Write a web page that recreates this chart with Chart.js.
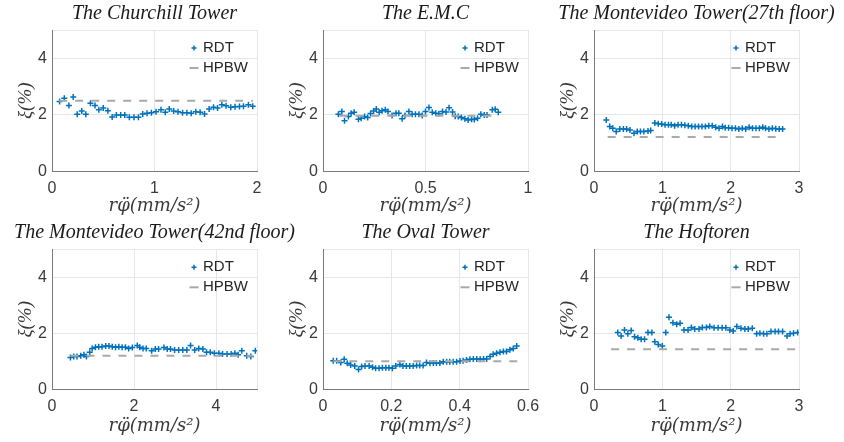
<!DOCTYPE html>
<html><head><meta charset="utf-8">
<script src="https://cdn.jsdelivr.net/npm/chart.js@4.4.0/dist/chart.umd.min.js"></script>
<style>
html,body{margin:0;padding:0;background:#fff;overflow:hidden;width:844px;height:442px;}
canvas{position:absolute;}
</style></head><body>
<canvas id="c0" width="309" height="221" style="left:0px;top:0px"></canvas>
<canvas id="c1" width="309" height="221" style="left:271px;top:0px"></canvas>
<canvas id="c2" width="309" height="221" style="left:542px;top:0px"></canvas>
<canvas id="c3" width="309" height="221" style="left:0px;top:221px"></canvas>
<canvas id="c4" width="309" height="221" style="left:271px;top:221px"></canvas>
<canvas id="c5" width="309" height="221" style="left:542px;top:221px"></canvas>
<script>
// ---------- data ----------
const titles = ['The Churchill Tower', 'The E.M.C', 'The Montevideo Tower(27th floor)',
                'The Montevideo Tower(42nd floor)', 'The Oval Tower', 'The Hoftoren'];
const xLabel = 'r\u03C6\u0308(mm/s\u00B2)';
const yLabel = '\u03BE(%)';
const seriesNames = ['RDT', 'HPBW'];

const xMax = [2, 1, 3, 5, 0.6, 3];
const xStep = [1, 0.5, 1, 2, 0.2, 1];
const yMax = 5;
const yStep = 2;

const churchillX = [0.074,0.12,0.165,0.207,0.246,0.29,0.33,0.375,0.42,0.457,0.5,0.545,0.587,0.628,0.67,0.71,0.755,0.8,0.843,0.885,0.927,0.97,1.015,1.063,1.105,1.144,1.187,1.229,1.274,1.316,1.358,1.403,1.445,1.488,1.533,1.576,1.615,1.657,1.698,1.744,1.786,1.829,1.868,1.916,1.958];
const churchillY = [2.47,2.59,2.33,2.63,2.02,2.14,2.02,2.41,2.33,2.18,2.24,2.15,1.93,2.0,2.0,2.0,1.92,1.92,1.92,2.03,2.06,2.08,2.11,2.18,2.09,2.21,2.14,2.11,2.08,2.08,2.06,2.11,2.09,2.03,2.21,2.27,2.24,2.36,2.32,2.27,2.29,2.30,2.31,2.36,2.31];

const emcX = [0.075,0.092,0.105,0.124,0.137,0.152,0.173,0.186,0.203,0.218,0.232,0.247,0.26,0.274,0.288,0.304,0.317,0.337,0.356,0.37,0.386,0.40,0.419,0.435,0.451,0.468,0.484,0.50,0.517,0.533,0.55,0.565,0.583,0.60,0.615,0.632,0.645,0.66,0.675,0.692,0.708,0.725,0.738,0.754,0.77,0.787,0.80,0.826,0.84,0.855];
const emcY = [2.02,2.12,1.79,1.94,2.06,2.09,1.85,1.88,1.94,1.91,2.05,2.14,2.21,2.09,2.15,2.18,2.12,1.98,2.06,2.06,1.86,1.98,2.12,2.02,2.02,2.02,1.98,2.12,2.26,2.09,2.06,2.04,2.12,2.1,2.25,2.1,1.95,1.94,1.91,1.86,1.82,1.85,1.84,1.88,2.02,2.0,2.0,2.18,2.2,2.09];

const monte27X = [0.18,0.23,0.275,0.325,0.378,0.43,0.477,0.526,0.585,0.633,0.68,0.73,0.79,0.83,0.89,0.94,0.99,1.04,1.09,1.13,1.18,1.23,1.28,1.33,1.38,1.43,1.48,1.53,1.58,1.63,1.68,1.73,1.78,1.83,1.88,1.92,1.97,2.02,2.07,2.12,2.17,2.22,2.27,2.32,2.37,2.42,2.47,2.51,2.56,2.61,2.66,2.71,2.76];
const monte27Y = [1.82,1.59,1.53,1.41,1.50,1.50,1.5,1.47,1.35,1.41,1.41,1.41,1.43,1.45,1.71,1.69,1.68,1.65,1.65,1.65,1.62,1.65,1.65,1.63,1.62,1.59,1.59,1.59,1.59,1.59,1.62,1.62,1.56,1.53,1.59,1.55,1.55,1.53,1.53,1.5,1.53,1.5,1.56,1.53,1.53,1.53,1.56,1.53,1.5,1.53,1.51,1.5,1.5];

const monte42X = [0.45,0.53,0.61,0.70,0.78,0.84,0.92,0.98,1.06,1.14,1.22,1.31,1.39,1.47,1.55,1.63,1.71,1.79,1.87,1.96,2.08,2.14,2.22,2.30,2.43,2.52,2.60,2.73,2.81,2.89,2.99,3.09,3.19,3.29,3.38,3.48,3.58,3.68,3.77,3.86,3.96,4.07,4.16,4.27,4.37,4.46,4.54,4.63,4.75,4.85,4.96];
const monte42Y = [1.14,1.17,1.17,1.2,1.23,1.17,1.32,1.46,1.5,1.52,1.52,1.55,1.55,1.52,1.5,1.52,1.5,1.5,1.46,1.49,1.56,1.5,1.46,1.46,1.38,1.44,1.44,1.49,1.44,1.44,1.4,1.4,1.4,1.4,1.56,1.4,1.46,1.44,1.32,1.32,1.29,1.29,1.26,1.26,1.26,1.29,1.23,1.38,1.2,1.17,1.38];

const ovalX = [0.030,0.040,0.052,0.062,0.071,0.081,0.093,0.104,0.113,0.123,0.135,0.145,0.154,0.164,0.174,0.184,0.193,0.203,0.213,0.225,0.234,0.244,0.254,0.264,0.274,0.283,0.293,0.303,0.313,0.323,0.332,0.342,0.352,0.362,0.371,0.381,0.391,0.401,0.41,0.42,0.43,0.44,0.45,0.46,0.47,0.479,0.489,0.498,0.508,0.518,0.528,0.537,0.547,0.557,0.567];
const ovalY = [1.02,1.02,0.96,1.07,0.93,0.87,0.83,0.71,0.81,0.83,0.83,0.79,0.75,0.75,0.77,0.77,0.77,0.75,0.83,0.89,0.83,0.83,0.83,0.83,0.85,0.85,0.85,0.96,0.93,0.94,0.94,0.94,0.98,0.98,0.98,0.98,0.98,1.01,1.02,1.05,1.07,1.08,1.08,1.07,1.08,1.08,1.17,1.25,1.29,1.32,1.35,1.35,1.41,1.46,1.55];

const hoftorenX = [0.348,0.397,0.446,0.495,0.544,0.593,0.642,0.69,0.74,0.79,0.847,0.89,0.94,1.0,1.05,1.097,1.155,1.21,1.26,1.317,1.376,1.425,1.474,1.537,1.586,1.645,1.694,1.757,1.816,1.875,1.929,1.988,2.037,2.09,2.15,2.208,2.257,2.316,2.38,2.428,2.482,2.53,2.59,2.65,2.70,2.76,2.825,2.87,2.92,2.98];
const hoftorenY = [2.03,1.90,2.12,1.98,2.10,1.88,1.84,1.79,1.79,2.03,2.03,1.70,1.60,1.55,2.03,2.57,2.38,2.32,2.36,2.12,2.12,2.21,2.15,2.15,2.21,2.21,2.24,2.20,2.20,2.20,2.20,2.12,2.08,2.24,2.18,2.15,2.15,2.18,1.98,2.0,1.98,1.98,2.06,2.06,2.06,2.06,1.90,1.98,2.0,2.03];

const hpbwValue = [2.5, 1.97, 1.22, 1.2, 1.0, 1.43];
const hpbwStart = [0.07, 0.08, 0.2, 0.45, 0.03, 0.25];
const hpbwEnd   = [1.96, 0.83, 2.75, 4.9, 0.57, 3.0];

const rdtX = [churchillX, emcX, monte27X, monte42X, ovalX, hoftorenX];
const rdtY = [churchillY, emcY, monte27Y, monte42Y, ovalY, hoftorenY];

// ---------- styling ----------
const BLUE = '#0072BD';
const GRAY = '#a9a9a9';
const GRID = '#e6e6e6';
const AXIS = '#7a7a7a';
const TXT = '#3a3a3a';
const SANS = "'Liberation Sans', Arial, Helvetica, sans-serif";
const SERIF = "'Liberation Serif', 'DejaVu Serif', serif";
const SERIF2 = "'DejaVu Serif', 'Liberation Serif', serif";

const insideLegend = {
  id: 'insideLegend',
  afterDraw(chart) {
    const {ctx, chartArea} = chart;
    ctx.save();
    chart.data.datasets.forEach((ds, i) => {
      const y = chartArea.top + 18 + i * 20;
      const sx = chartArea.right - 63;
      ctx.strokeStyle = ds.borderColor;
      if (ds.showLine) {
        ctx.lineWidth = 2;
        ctx.beginPath(); ctx.moveTo(sx - 4.5, y); ctx.lineTo(sx + 4.5, y); ctx.stroke();
      } else {
        ctx.lineWidth = 1.5;
        ctx.beginPath();
        ctx.moveTo(sx - 2.5, y); ctx.lineTo(sx + 2.5, y);
        ctx.moveTo(sx, y - 2.5); ctx.lineTo(sx, y + 2.5);
        ctx.stroke();
      }
      ctx.fillStyle = '#262626';
      ctx.font = '15px ' + SANS;
      ctx.textBaseline = 'middle';
      ctx.textAlign = 'left';
      ctx.fillText(ds.label, chartArea.right - 54, y);
    });
    ctx.restore();
  }
};

function fmt(v, step) {
  const r = v / step;
  if (Math.abs(r - Math.round(r)) > 1e-6) return '';
  return String(+v.toFixed(3));
}

function makeChart(i) {
  const top = i < 3;
  const ctx = document.getElementById('c' + i);
  const pts = rdtX[i].map((x, k) => ({x: x, y: rdtY[i][k]}));
  new Chart(ctx, {
    type: 'scatter',
    data: {
      datasets: [
        {label: seriesNames[0], data: pts, showLine: false, pointStyle: 'cross',
         pointRadius: 3, pointBorderWidth: 1.5, borderColor: BLUE, backgroundColor: BLUE, order: 1},
        {label: seriesNames[1], data: [{x: hpbwStart[i], y: hpbwValue[i]}, {x: hpbwEnd[i], y: hpbwValue[i]}],
         showLine: true, pointRadius: 0, borderColor: GRAY, borderWidth: 2, borderDash: [8, 8], order: 0}
      ]
    },
    options: {
      responsive: false, animation: false, devicePixelRatio: 1,
      layout: {padding: 0},
      plugins: {
        legend: {display: false},
        tooltip: {enabled: false},
        title: {display: true, text: titles[i], color: '#1a1a1a',
                font: {family: SERIF, style: 'italic', size: 20, lineHeight: 1.2, weight: 'normal'},
                padding: top ? {top: 2, bottom: 4} : {top: 0, bottom: 4.3}}
      },
      scales: {
        x: {type: 'linear', min: 0, max: xMax[i],
            ticks: {stepSize: xStep[i], padding: top ? 7 : 8, color: TXT, maxRotation: 0, autoSkip: false,
                    font: {family: SANS, size: 16, lineHeight: 1.2},
                    callback: (v) => fmt(v, xStep[i])},
            grid: {color: GRID, drawTicks: false, lineWidth: 1},
            border: {color: AXIS, width: 1},
            title: {display: true, text: xLabel, color: TXT,
                    font: {family: SERIF2, style: 'italic', size: 18, lineHeight: 1.2},
                    padding: {top: 0, bottom: top ? 4 : 5}},
            afterFit: (s) => { s.height = top ? 49.5 : 52.7; }},
        y: {type: 'linear', position: 'left', min: 0, max: yMax,
            ticks: {stepSize: yStep, padding: 5, color: TXT,
                    font: {family: SANS, size: 16, lineHeight: 1.2},
                    callback: (v) => fmt(v, yStep)},
            grid: {color: GRID, drawTicks: false, lineWidth: 1},
            border: {color: AXIS, width: 1},
            title: {display: true, text: yLabel, color: TXT,
                    font: {family: SERIF, style: 'italic', size: 19, lineHeight: 1.2},
                    padding: {top: 14.4, bottom: 0}},
            afterFit: (s) => { s.width = 52; }},
        yR: {type: 'linear', position: 'right', display: true,
             grid: {display: false}, border: {display: false}, ticks: {display: false},
             afterFit: (s) => { s.width = 52; }}
      }
    },
    plugins: [insideLegend]
  });
}
for (let i = 0; i < 6; i++) makeChart(i);
</script>
</body></html>
